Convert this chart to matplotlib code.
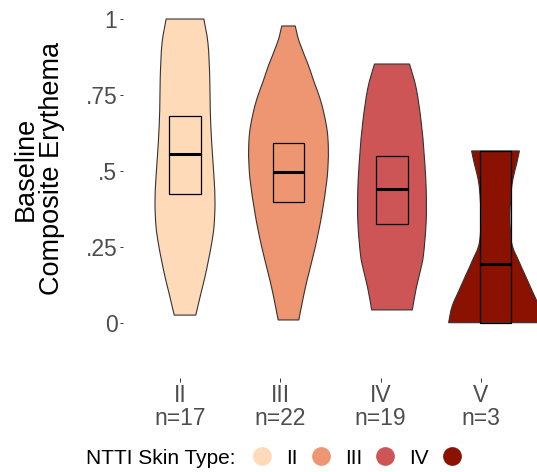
import matplotlib
matplotlib.use("Agg")
import numpy as np
import matplotlib.pyplot as plt
from matplotlib.lines import Line2D
from matplotlib.patches import Rectangle, PathPatch
from matplotlib.path import Path

plt.rcParams['font.family'] = ['Liberation Sans', 'DejaVu Sans']

# Grupy (typ skóry NTTI) i liczności
skin_types = ['II', 'III', 'IV', 'V']
n_counts = [17, 22, 19, 3]
fill_colors = ['#FFDAB9', '#EE9572', '#CD5555', '#8B1100']

# Kontury skrzypiec: poziom rumienia i półszerokość
# (półszerokość jako ułamek odstępu między kategoriami)
levels_II = [1.000, 0.920, 0.810, 0.701, 0.592, 0.481, 0.395, 0.317, 0.263, 0.207, 0.152, 0.099, 0.026]
width_II = [0.182, 0.222, 0.239, 0.244, 0.258, 0.280, 0.290, 0.280, 0.258, 0.227, 0.193, 0.155, 0.104]

levels_III = [0.977, 0.925, 0.849, 0.794, 0.739, 0.684, 0.629, 0.575, 0.520, 0.465, 0.355, 0.246, 0.136, 0.059, 0.010]
width_III = [0.065, 0.104, 0.191, 0.246, 0.304, 0.346, 0.375, 0.385, 0.382, 0.369, 0.321, 0.256, 0.176, 0.128, 0.100]

levels_IV = [0.852, 0.772, 0.662, 0.553, 0.443, 0.333, 0.224, 0.169, 0.114, 0.043]
width_IV = [0.169, 0.234, 0.282, 0.311, 0.330, 0.330, 0.304, 0.272, 0.234, 0.196]

levels_V = [0.566, 0.525, 0.481, 0.438, 0.350, 0.262, 0.207, 0.163, 0.109, 0.054, 0.001]
width_V = [0.231, 0.205, 0.173, 0.154, 0.140, 0.157, 0.221, 0.279, 0.350, 0.420, 0.453]

violin_levels = [levels_II, levels_III, levels_IV, levels_V]
violin_widths = [width_II, width_III, width_IV, width_V]

# Pudełka: kwartyle i mediana
q1_values = [0.424, 0.399, 0.326, 0.001]
median_values = [0.556, 0.496, 0.441, 0.194]
q3_values = [0.681, 0.591, 0.550, 0.566]

y_ticks = [0, 0.25, 0.5, 0.75, 1]
y_tick_labels = ['0', '.25', '.5', '.75', '1']


def smooth_side(pts):
	# gładka krzywa (Catmull-Rom -> Bezier) przez punkty konturu
	verts, codes = [], []
	p = [pts[0]] + list(pts) + [pts[-1]]
	for k in range(1, len(p) - 2):
		p0, p1, p2, p3 = p[k - 1], p[k], p[k + 1], p[k + 2]
		c1 = p1 + (p2 - p0) / 6
		c2 = p2 - (p3 - p1) / 6
		verts += [c1, c2, p2]
		codes += [Path.CURVE4] * 3
	return verts, codes


def violin_path(pos, lev, wid):
	lev = np.array(lev)
	wid = np.array(wid)
	left = np.column_stack([pos - wid, lev])
	right = np.column_stack([pos + wid, lev])[::-1]
	verts, codes = [left[0]], [Path.MOVETO]
	v, c = smooth_side(left)
	verts += v
	codes += c
	verts.append(right[0])
	codes.append(Path.LINETO)
	v, c = smooth_side(right)
	verts += v
	codes += c
	verts.append(left[0])
	codes.append(Path.CLOSEPOLY)
	return Path(verts, codes)


W, H = 537, 472
fig = plt.figure(figsize=(W / 100, H / 100), dpi=100)

# 1. Główny panel ze skrzypcami
ax = fig.add_axes([123 / W, 1 - 338.2 / H, 414 / W, 334.4 / H])
ax.set_xlim(-0.599, 3.401)
ax.set_ylim(-0.05, 1.05)
for s in ax.spines.values():
	s.set_visible(False)

box_half = 0.15
for i in range(len(skin_types)):
	patch = PathPatch(violin_path(i, violin_levels[i], violin_widths[i]), facecolor=fill_colors[i],
		edgecolor='#333333', linewidth=0.8, zorder=2)
	ax.add_patch(patch)

	box = Rectangle((i - box_half, q1_values[i]), 2 * box_half, q3_values[i] - q1_values[i],
		facecolor='none', edgecolor='black', linewidth=0.9, zorder=3)
	ax.add_patch(box)
	ax.plot([i - box_half, i + box_half], [median_values[i]] * 2, color='black', linewidth=2.2,
		solid_capstyle='butt', zorder=4)

ax.set_xticks([])
ax.set_yticks(y_ticks)
ax.set_yticklabels(y_tick_labels)
ax.tick_params(axis='y', length=2.5, width=0.7, color='#333333', labelcolor='#4D4D4D',
	labelsize=16.5, pad=1.5)

fig.text(39 / W, 1 - 168.5 / H, 'Baseline\nComposite Erythema', rotation=90, ha='center',
	va='center', fontsize=19.5, linespacing=1.0, multialignment='center')

# 2. Osobny panel z etykietami kategorii
lab_ax = fig.add_axes([123 / W, 1 - 378 / H, 414 / W, 0.001])
lab_ax.set_xlim(-0.568, 3.558)
lab_ax.patch.set_visible(False)
for s in lab_ax.spines.values():
	s.set_visible(False)
lab_ax.set_yticks([])
lab_ax.set_xticks(range(len(skin_types)))
lab_ax.set_xticklabels([f'{t}\nn={n}' for t, n in zip(skin_types, n_counts)], linespacing=1.0)
lab_ax.tick_params(axis='x', length=3, width=0.7, color='#333333', labelcolor='#4D4D4D',
	labelsize=16.5, pad=1.5)

# 3. Legenda na dole
fig.text(86 / W, 1 - 458 / H, 'NTTI Skin Type:', ha='left', va='center', fontsize=15)
handles = [Line2D([], [], linestyle='', marker='o', markersize=13.5, markerfacecolor=c,
	markeredgewidth=0) for c in fill_colors]
fig.legend(handles, ['II', 'III', 'IV', ''], ncol=4, loc='center left',
	bbox_to_anchor=(251.6 / W, 1 - 458 / H), frameon=False, fontsize=15,
	handlelength=1.0, handletextpad=0.65, columnspacing=0.62, borderpad=0, borderaxespad=0)

fig.savefig('out.png', dpi=100)
